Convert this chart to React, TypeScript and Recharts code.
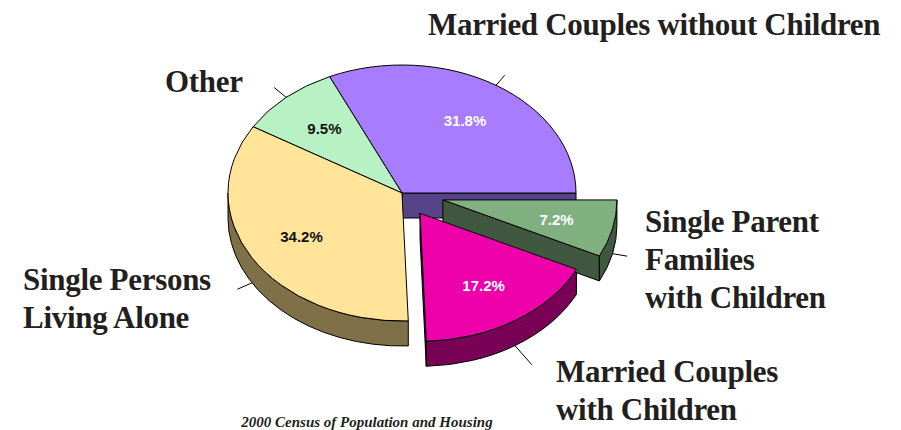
import React from 'react';
import { PieChart, Pie } from 'recharts';

// ---------- data ----------
const categories = [
  'Married Couples without Children',
  'Other',
  'Single Persons Living Alone',
  'Married Couples with Children',
  'Single Parent Families with Children',
];
const shares = [31.8, 9.5, 34.2, 17.2, 7.2];
const categoryLabelLines = [
  ['Married Couples without Children'],
  ['Other'],
  ['Single Persons', 'Living Alone'],
  ['Married Couples', 'with Children'],
  ['Single Parent', 'Families', 'with Children'],
];
const footnote = '2000 Census of Population and Housing';

const data = categories.map((name, i) => ({ name, value: shares[i] }));

// ---------- style ----------
const W = 901;
const H = 430;
const CX = 402;
const CY = 193;
const R = 174;
const K = 0.7356; // vertical squash of the tilted pie
const DEPTH = 25;
const RAD = Math.PI / 180;

const topColors = ['#A87CFF', '#B8F2C4', '#FFE499', '#EE00AA', '#80B080'];
const wallColors = ['#574488', '#5E8A66', '#807048', '#780055', '#405840'];
const pctColors = ['#FFFFFF', '#111111', '#111111', '#FFFFFF', '#FFFFFF'];
const explode = [0, 0, 0, 33, 42];
const leaderEnd = [190, 192, 191, 205, 189];
const labelPos = [
  { x: 428, y: 35 },
  { x: 165, y: 92 },
  { x: 23, y: 290 },
  { x: 556, y: 382 },
  { x: 645, y: 232 },
];
const LINE_GAP = 38;
const serif = '"Liberation Serif", "Times New Roman", serif';
const sans = '"Liberation Sans", Arial, sans-serif';

const pt = (cx: number, cy: number, r: number, deg: number): [number, number] => [
  cx + r * Math.cos(deg * RAD),
  cy - r * K * Math.sin(deg * RAD),
];

const sliceCenter = (p: any): [number, number] => {
  const cx = typeof p.cx === 'number' ? p.cx : CX;
  const cy = typeof p.cy === 'number' ? p.cy : CY;
  return pt(cx, cy, explode[p.index], p.midAngle);
};

const renderWalls = (p: any) => {
  const i = p.index;
  const [cx, cy] = sliceCenter(p);
  const r = typeof p.outerRadius === 'number' ? p.outerRadius : R;
  const s = p.startAngle;
  const e = p.endAngle;
  const paths: string[] = [];
  const radial = (ang: number) => {
    const [x, y] = pt(cx, cy, r, ang);
    return `M${cx},${cy} L${x},${y} L${x},${y + DEPTH} L${cx},${cy + DEPTH} Z`;
  };
  if (Math.cos(s * RAD) > 0.0001) paths.push(radial(s));
  if (Math.cos(e * RAD) < -0.0001) paths.push(radial(e));
  const a = Math.max(s, 180);
  const b = Math.min(e, 360);
  if (b > a) {
    const [x1, y1] = pt(cx, cy, r, a);
    const [x2, y2] = pt(cx, cy, r, b);
    const large = b - a > 180 ? 1 : 0;
    paths.push(
      `M${x1},${y1} A${r},${r * K} 0 ${large} 0 ${x2},${y2} L${x2},${y2 + DEPTH} A${r},${r * K} 0 ${large} 1 ${x1},${y1 + DEPTH} Z`
    );
  }
  return (
    <g key={`wall-${i}`}>
      {paths.map((d, j) => (
        <path key={j} d={d} fill={wallColors[i]} stroke="#000" strokeWidth={1} strokeLinejoin="round" />
      ))}
    </g>
  );
};

const renderTops = (p: any) => {
  const i = p.index;
  const [cx, cy] = sliceCenter(p);
  const r = typeof p.outerRadius === 'number' ? p.outerRadius : R;
  const s = p.startAngle;
  const e = p.endAngle;
  const m = p.midAngle;
  const [x1, y1] = pt(cx, cy, r, s);
  const [x2, y2] = pt(cx, cy, r, e);
  const large = e - s > 180 ? 1 : 0;
  const d = `M${cx},${cy} L${x1},${y1} A${r},${r * K} 0 ${large} 0 ${x2},${y2} Z`;
  const [tx, ty] = pt(cx, cy, r * 0.67, m);
  const drop = Math.sin(m * RAD) < 0 ? DEPTH : 0;
  const [lx1, ly1] = pt(cx, cy, r, m);
  const [lx2, ly2] = pt(cx, cy, leaderEnd[i], m);
  const lp = labelPos[i];
  return (
    <g key={`top-${i}`}>
      <path d={d} fill={topColors[i]} stroke="#000" strokeWidth={1} strokeLinejoin="round" />
      <text
        x={tx}
        y={ty}
        dy="0.36em"
        textAnchor="middle"
        fontFamily={sans}
        fontWeight="bold"
        fontSize={15}
        fill={pctColors[i]}
      >
        {`${shares[i].toFixed(1)}%`}
      </text>
      <line x1={lx1} y1={ly1 + drop} x2={lx2} y2={ly2 + drop} stroke="#000" strokeWidth={1} />
      <text
        x={lp.x}
        y={lp.y}
        fontFamily={serif}
        fontWeight="bold"
        fontSize={31}
        letterSpacing={-0.3}
        fill="#231F20"
        textAnchor="start"
      >
        {categoryLabelLines[i].map((line, j) => (
          <tspan key={j} x={lp.x} y={lp.y + j * LINE_GAP}>
            {line}
          </tspan>
        ))}
      </text>
    </g>
  );
};

export default function App() {
  return (
    <div style={{ position: 'absolute', left: 0, top: 0, width: W, height: H, background: '#fff' }}>
      <PieChart width={W} height={H} margin={{ top: 0, right: 0, bottom: 0, left: 0 }}>
        <Pie
          data={data}
          dataKey="value"
          nameKey="name"
          cx={CX}
          cy={CY}
          innerRadius={0}
          outerRadius={R}
          startAngle={0}
          endAngle={360}
          fill="transparent"
          stroke="none"
          label={renderWalls}
          labelLine={false}
          isAnimationActive={false}
        />
        <Pie
          data={data}
          dataKey="value"
          nameKey="name"
          cx={CX}
          cy={CY}
          innerRadius={0}
          outerRadius={R}
          startAngle={0}
          endAngle={360}
          fill="transparent"
          stroke="none"
          label={renderTops}
          labelLine={false}
          isAnimationActive={false}
        />
      </PieChart>
      <svg width={W} height={H} style={{ position: 'absolute', left: 0, top: 0, pointerEvents: 'none' }}>
        <text
          x={367}
          y={427}
          textAnchor="middle"
          fontFamily={serif}
          fontWeight="bold"
          fontStyle="italic"
          fontSize={15}
          fill="#231F20"
        >
          {footnote}
        </text>
      </svg>
    </div>
  );
}
